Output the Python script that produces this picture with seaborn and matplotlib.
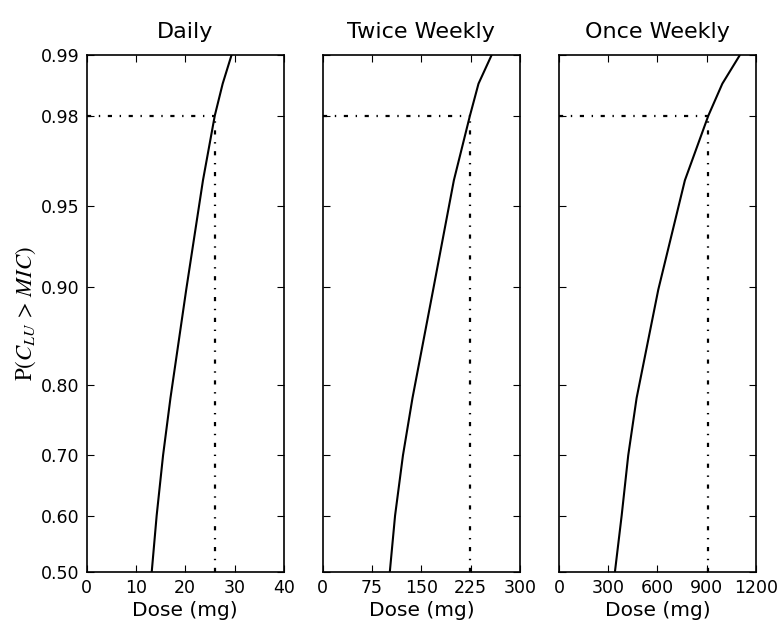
import numpy as np
import pandas as pd
import matplotlib
matplotlib.use("Agg")
import matplotlib.pyplot as plt
from matplotlib.ticker import FixedLocator, FormatStrFormatter, NullLocator
import seaborn as sns
from statistics import NormalDist

# Probability of unbound concentration exceeding MIC, per dosing regimen
prob_levels = [0.50, 0.60, 0.70, 0.783, 0.898, 0.961, 0.98, 0.986, 0.99]
dose_daily = [13.2, 14.2, 15.5, 17.0, 20.2, 23.6, 26.0, 27.6, 29.4]
dose_twice_weekly = [102, 110, 122, 136.5, 168, 199.5, 224, 237, 257]
dose_once_weekly = [341, 382, 422, 473, 605, 767, 910, 995, 1102]

regimens = ["Daily", "Twice Weekly", "Once Weekly"]
target_prob = 0.98
target_dose = [26.0, 224, 910]
x_limits = [40, 300, 1200]
x_ticks = [[0, 10, 20, 30, 40], [0, 75, 150, 225, 300], [0, 300, 600, 900, 1200]]
y_ticks = [0.50, 0.60, 0.70, 0.80, 0.90, 0.95, 0.98, 0.99]

sns.set_style("ticks")
plt.rcParams["font.family"] = ["DejaVu Sans"]
plt.rcParams["mathtext.fontset"] = "stix"
plt.rcParams["lines.scale_dashes"] = False
plt.rcParams["text.color"] = "black"
plt.rcParams["axes.labelcolor"] = "black"
plt.rcParams["xtick.color"] = "black"
plt.rcParams["ytick.color"] = "black"

_nd = NormalDist()
_ppf = np.vectorize(lambda p: _nd.inv_cdf(min(max(p, 1e-9), 1 - 1e-9)), otypes=[float])
_cdf = np.vectorize(lambda z: _nd.cdf(z), otypes=[float])


def probit(p):
    return _ppf(np.asarray(p, dtype=float))


def inv_probit(z):
    return _cdf(np.asarray(z, dtype=float))


fig, axes = plt.subplots(1, 3, figsize=(7.81, 6.25), dpi=100, sharey=True)
fig.subplots_adjust(left=0.111, right=0.968, top=0.912, bottom=0.085, wspace=0.198)

series = [dose_daily, dose_twice_weekly, dose_once_weekly]
dashdot = (0, (3, 5.5, 1, 5.5))

for i, ax in enumerate(axes):
    df = pd.DataFrame({"dose": series[i], "prob": prob_levels})
    ax.set_yscale("function", functions=(probit, inv_probit))
    sns.lineplot(data=df, x="dose", y="prob", ax=ax, color="black",
                 linewidth=1.5, sort=False, estimator=None)
    ax.plot([0, target_dose[i]], [target_prob, target_prob], color="black",
            linewidth=1.6, linestyle=dashdot)
    ax.plot([target_dose[i], target_dose[i]], [0.5, target_prob], color="black",
            linewidth=1.6, linestyle=dashdot)

    ax.set_xlim(0, x_limits[i])
    ax.set_ylim(0.50, 0.99)
    ax.set_xticks(x_ticks[i])
    ax.yaxis.set_major_locator(FixedLocator(y_ticks))
    ax.yaxis.set_major_formatter(FormatStrFormatter("%.2f"))
    ax.yaxis.set_minor_locator(NullLocator())
    ax.set_title(regimens[i], fontsize=16, pad=12, color="black")
    ax.set_xlabel("Dose (mg)", fontsize=14.5, labelpad=3)
    ax.set_ylabel("")
    ax.tick_params(direction="in", top=True, right=True, length=5, width=0.8,
                   labelsize=12.5, pad=5)
    for sp in ax.spines.values():
        sp.set_linewidth(1.2)
        sp.set_color("black")
    if i > 0:
        ax.tick_params(labelleft=False)

axes[0].set_ylabel(r"$\mathrm{P}(C_{LU}\,>\,MIC)$", fontsize=16.5, labelpad=2)

fig.savefig("out.png", dpi=100)
